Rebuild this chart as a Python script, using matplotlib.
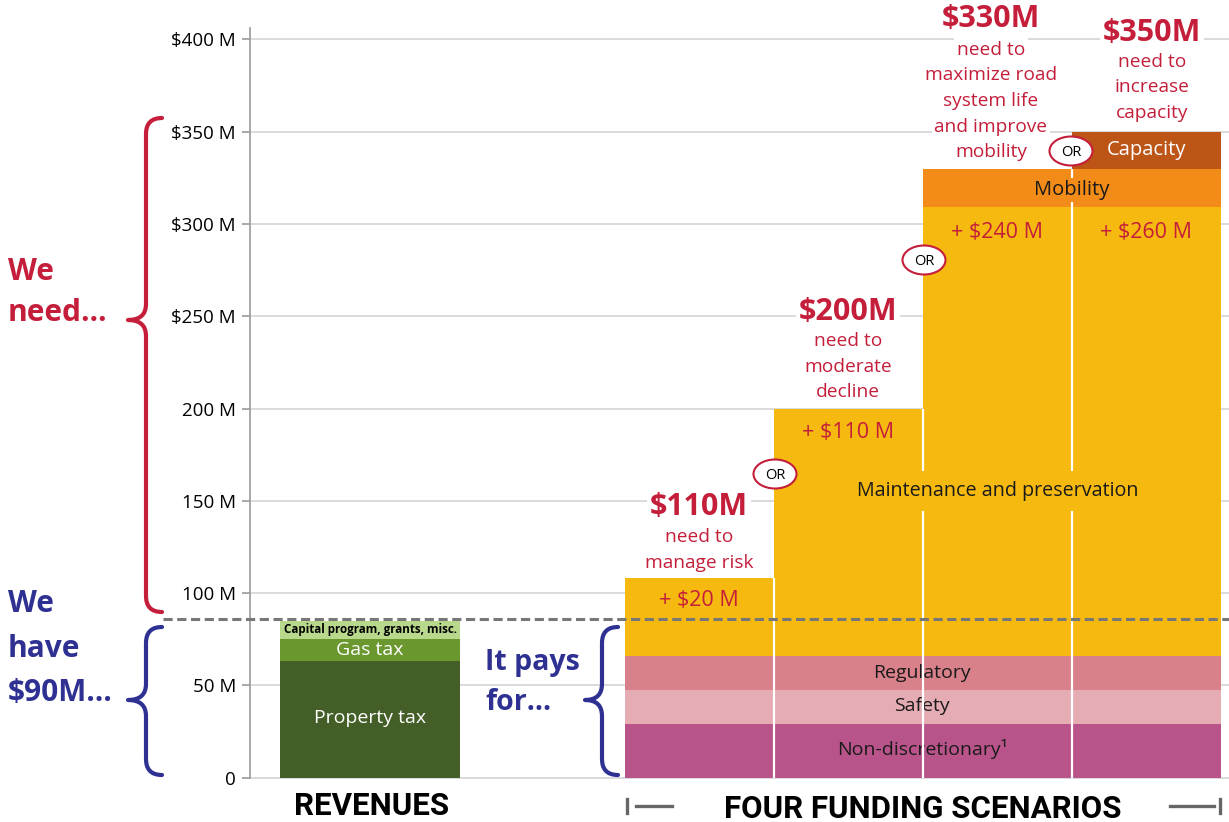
import numpy as np
import matplotlib.pyplot as plt
from matplotlib.transforms import Affine2D
from matplotlib.patches import Ellipse, PathPatch
from matplotlib.path import Path

plt.rcParams['font.family'] = ['Open Sans', 'DejaVu Sans']

# ---- data ----
rev_labels = ['Property tax', 'Gas tax', 'Capital program, grants, misc.']
rev_values = [63, 12, 10]
rev_colors = ['#445e28', '#6b972f', '#b8d88c']
rev_text_colors = ['white', 'white', 'black']

base_labels = ['Non-discretionary\u00b9', 'Safety', 'Regulatory']
base_values = [29, 18.5, 18.5]
base_colors = ['#b8548a', '#e5adb3', '#d8818a']

maintenance = [42, 134, 243, 243]
mobility = [0, 0, 21, 21]
capacity = [0, 0, 0, 20]

headlines = ['$110M', '$200M', '$330M', '$350M']
subtitles = [['need to', 'manage risk'],
             ['need to', 'moderate', 'decline'],
             ['need to', 'maximize road', 'system life', 'and improve', 'mobility'],
             ['need to', 'increase', 'capacity']]
increments = ['+ $20 M', '+ $110 M', '+ $240 M', '+ $260 M']

available = 86
yticks = [0, 50, 100, 150, 200, 250, 300, 350, 400]
ytick_labels = ['0', '50 M', '100 M', '150 M', '200 M', '$250 M', '$300 M', '$350 M', '$400 M']

RED = '#c41e3a'
BLUE = '#2e3192'
YELLOW = '#f6b90f'
ORANGE = '#f28b17'
BROWN = '#bd5517'

# ---- figure / coordinate setup ----
W, H = 1229, 822
ZERO_PX = 777.7
PX_PER_M = 1.846

fig = plt.figure(figsize=(W / 100, H / 100), dpi=100)
ax = fig.add_axes([0, 0, 1, 1])
ax.set_xlim(0, W)
ax.set_ylim(-(H - ZERO_PX) / PX_PER_M, ZERO_PX / PX_PER_M)
# pixel coordinates, origin top-left
px = Affine2D().scale(1 / W, -1 / H).translate(0, 1) + fig.transFigure

for s in ['top', 'right', 'bottom']:
    ax.spines[s].set_visible(False)
ax.spines['left'].set_position(('data', 250))
ax.spines['left'].set_bounds(0, 406)
ax.spines['left'].set_color('#9a9a9a')
ax.spines['left'].set_linewidth(1.2)
ax.set_xticks([])
ax.set_yticks(yticks)
ax.set_yticklabels(ytick_labels)
ax.tick_params(axis='y', direction='out', length=6, width=1.2, color='#9a9a9a',
               labelsize=13.5, pad=4)
ax.hlines(yticks, 250, W, colors='#d4d4d4', lw=1.2, zorder=1)

# ---- revenues bar ----
rev_x, rev_w = 370, 180
bottom = 0
for lab, val, col in zip(rev_labels, rev_values, rev_colors):
    ax.bar(rev_x, val, rev_w, bottom=bottom, color=col, zorder=2)
    bottom += val

rev_label_y = [718, 650, 629]
rev_label_size = [14, 14, 8.4]
rev_label_weight = ['normal', 'normal', 'bold']
for lab, y, tc, fs, fw in zip(rev_labels, rev_label_y, rev_text_colors, rev_label_size, rev_label_weight):
    ax.text(rev_x, y, lab, transform=px, ha='center', va='center', color=tc,
            fontsize=fs, fontweight=fw, zorder=4)

# ---- scenario bars ----
scen_x = np.array([699, 848, 997, 1146])
scen_w = 149
bottom = np.zeros(4)
for lab, val, col in zip(base_labels, base_values, base_colors):
    ax.bar(scen_x, [val] * 4, scen_w, bottom=bottom, color=col, zorder=2)
    bottom = bottom + val
for vals, col in [(maintenance, YELLOW), (mobility, ORANGE), (capacity, BROWN)]:
    vals = np.array(vals, dtype=float)
    ax.bar(scen_x, vals, scen_w, bottom=bottom, color=col, zorder=2)
    bottom = bottom + vals
totals = bottom

# white dividers between scenario bars
bounds = (scen_x[:-1] + scen_x[1:]) / 2
ax.vlines(bounds, 0, np.minimum(totals[:-1], totals[1:]), colors='white', lw=1.6, zorder=3)

# labels inside the layers
base_label_y = [749, 706, 673]
for lab, y in zip(base_labels, base_label_y):
    ax.text(922, y, lab, transform=px, ha='center', va='center', fontsize=14,
            color='#1a1a1a', zorder=2.5)
ax.text(998, 491, 'Maintenance and preservation', transform=px, ha='center', va='center',
        fontsize=14.2, color='#1a1a1a', zorder=4,
        bbox=dict(boxstyle='square,pad=0.5', fc=YELLOW, ec='none'))
ax.text(1072, 190, 'Mobility', transform=px, ha='center', va='center', fontsize=14.5,
        color='#1a1a1a', zorder=4, bbox=dict(boxstyle='square,pad=0.1', fc=ORANGE, ec='none'))
ax.text(1146, 150, 'Capacity', transform=px, ha='center', va='center', fontsize=14.5,
        color='white', zorder=4)

inc_y = [600, 432, 232, 232]
for x, y, s in zip(scen_x, inc_y, increments):
    ax.text(x, y, s, transform=px, ha='center', va='center', fontsize=15.5, color=RED, zorder=4)

# headers above bars
head_x = [699, 848, 991, 1152]
head_y = [507, 312, 19, 33]
sub_y0 = [537, 341, 50, 62]
for x, y, y0, t, subs in zip(head_x, head_y, sub_y0, headlines, subtitles):
    ax.text(x, y, t, transform=px, ha='center', va='center', fontsize=22, fontweight='bold',
            color=RED, zorder=4, bbox=dict(boxstyle='square,pad=0.1', fc='white', ec='none'))
    for i, s in enumerate(subs):
        ax.text(x, y0 + i * 25.5, s, transform=px, ha='center', va='center', fontsize=13.8,
                color=RED, zorder=4, bbox=dict(boxstyle='square,pad=0.15', fc='white', ec='none'))

# OR markers
for cx, cy in [(775, 474), (924, 260), (1071, 151)]:
    ax.add_patch(Ellipse((cx, cy), 43, 29, transform=px, fc='white', ec=RED, lw=1.5, zorder=6))
    ax.text(cx, cy + 1, 'OR', transform=px, ha='center', va='center', fontsize=10.5,
            color='black', zorder=7)

# available funding line
ax.hlines(available, 163, W, colors='#777777', lw=2.2, linestyles=(0, (3, 1.5)), zorder=5)


# ---- braces and side text ----
def brace(x_end, x_mid, x_tip, y_top, y_tip, y_bot, color):
    r = x_end - x_mid
    verts = [(x_end, y_top), (x_mid, y_top), (x_mid, y_top + r),
             (x_mid, y_tip - r), (x_mid, y_tip), (x_tip, y_tip),
             (x_mid, y_tip), (x_mid, y_tip + r),
             (x_mid, y_bot - r), (x_mid, y_bot), (x_end, y_bot)]
    codes = [Path.MOVETO, Path.CURVE3, Path.CURVE3, Path.LINETO, Path.CURVE3, Path.CURVE3,
             Path.CURVE3, Path.CURVE3, Path.LINETO, Path.CURVE3, Path.CURVE3]
    ax.add_patch(PathPatch(Path(verts, codes), transform=px, fill=False, ec=color, lw=3,
                           capstyle='round', joinstyle='round', zorder=6, clip_on=False))


brace(162, 146, 128, 118, 320, 612, RED)
brace(162, 146, 128, 627, 700, 775, BLUE)
brace(618, 602, 585, 627, 700, 775, BLUE)

for s, y in zip(['We', 'need\u2026'], [272, 313]):
    ax.text(8, y, s, transform=px, ha='left', va='center', fontsize=21.5, fontweight='bold', color=RED)
for s, y in zip(['We', 'have', '$90M\u2026'], [604, 649, 693]):
    ax.text(8, y, s, transform=px, ha='left', va='center', fontsize=21.5, fontweight='bold', color=BLUE)
for s, y in zip(['It pays', 'for\u2026'], [662, 702]):
    ax.text(485, y, s, transform=px, ha='left', va='center', fontsize=20.5, fontweight='bold', color=BLUE)

# ---- bottom titles ----
cond = ['Roboto', 'DejaVu Sans']
ax.text(372, 815, 'REVENUES', transform=px, ha='center', va='baseline', fontsize=22.5,
        fontweight='bold', family=cond, color='black')
ax.text(923, 818, 'FOUR FUNDING SCENARIOS', transform=px, ha='center', va='baseline',
        fontsize=22.5, fontweight='bold', family=cond, color='black')
for xs in [(636, 672), (1170, 1214)]:
    ax.plot(xs, (806, 806), transform=px, color='#666666', lw=2.4)
for x in [627, 1220]:
    ax.plot((x, x), (799, 813), transform=px, color='#666666', lw=2.4)

fig.savefig('out.png', dpi=100)
